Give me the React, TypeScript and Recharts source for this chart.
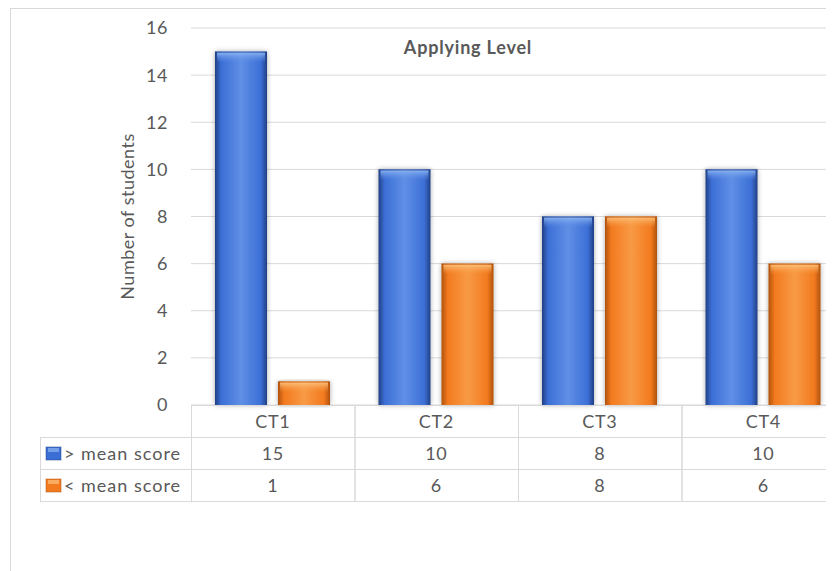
import { BarChart, Bar, XAxis, YAxis, CartesianGrid } from 'recharts';

const categories = ['CT1', 'CT2', 'CT3', 'CT4'];
const aboveMean = [15, 10, 8, 10];
const belowMean = [1, 6, 8, 6];
const seriesNames = ['> mean score', '< mean score'];
const yTicks = [0, 2, 4, 6, 8, 10, 12, 14, 16];

const data = categories.map((name, i) => ({ name, above: aboveMean[i], below: belowMean[i] }));

const TEXT = '#595959';
const LINE = '#d9d9d9';
const FONT = 'Lato, "Open Sans", sans-serif';
const ROW = 32;
const LEGEND_W = 151;

const palette = {
  blue: { edge: '#203f86', mid: '#3c6fd6', light: '#5f8fe6', cap: '#8db4f0' },
  orange: { edge: '#b0520c', mid: '#f37a1f', light: '#f89a45', cap: '#fcc27c' },
};

function BevelBar(props: any) {
  const { x, y, width, height, kind } = props;
  if (!height || height <= 0) return null;
  const c = palette[kind as 'blue' | 'orange'];
  const id = `${kind}-${Math.round(x)}`;
  const cap = Math.min(10, height / 2);
  return (
    <g>
      <defs>
        <linearGradient id={`${id}-h`} x1="0" y1="0" x2="1" y2="0">
          <stop offset="0%" stopColor={c.edge} />
          <stop offset="12%" stopColor={c.mid} />
          <stop offset="50%" stopColor={c.light} />
          <stop offset="88%" stopColor={c.mid} />
          <stop offset="100%" stopColor={c.edge} />
        </linearGradient>
        <linearGradient id={`${id}-v`} x1="0" y1="0" x2="0" y2="1">
          <stop offset="0%" stopColor={c.cap} stopOpacity={0.95} />
          <stop offset="100%" stopColor={c.light} stopOpacity={0} />
        </linearGradient>
        <filter id={`${id}-s`} x="-30%" y="-10%" width="160%" height="120%">
          <feDropShadow dx="0" dy="0" stdDeviation="2.5" floodColor="#000" floodOpacity="0.35" />
        </filter>
      </defs>
      <rect x={x} y={y} width={width} height={height} fill={`url(#${id}-h)`} filter={`url(#${id}-s)`} />
      <rect x={x + 2} y={y + 1} width={width - 4} height={cap} fill={`url(#${id}-v)`} />
      <line x1={x} x2={x + width} y1={y + 0.5} y2={y + 0.5} stroke={c.edge} strokeOpacity={0.6} />
    </g>
  );
}

function TableTick(props: any) {
  const { x, y, payload, index } = props;
  const half = payload && payload.offset ? payload.offset : 81.75;
  const left = x - half;
  const right = x + half;
  const i = index ?? categories.indexOf(payload.value);
  const txt = {
    fontFamily: FONT,
    fontSize: 18,
    letterSpacing: 0.6,
    fill: TEXT,
    textAnchor: 'middle' as const,
    dominantBaseline: 'central' as const,
  };
  return (
    <g>
      <line x1={left} x2={right} y1={y + 0.5} y2={y + 0.5} stroke={LINE} />
      <line x1={left} x2={right} y1={y + ROW + 0.5} y2={y + ROW + 0.5} stroke={LINE} />
      <line x1={left} x2={right} y1={y + ROW * 2 + 0.5} y2={y + ROW * 2 + 0.5} stroke={LINE} />
      <line x1={left} x2={right} y1={y + ROW * 3 + 0.5} y2={y + ROW * 3 + 0.5} stroke={LINE} />
      <line x1={left + 0.5} x2={left + 0.5} y1={y} y2={y + ROW * 3} stroke={LINE} />
      <line x1={right + 0.5} x2={right + 0.5} y1={y} y2={y + ROW * 3} stroke={LINE} />
      <text x={x} y={y + ROW / 2} {...txt}>{payload.value}</text>
      <text x={x} y={y + ROW * 1.5} {...txt}>{aboveMean[i]}</text>
      <text x={x} y={y + ROW * 2.5} {...txt}>{belowMean[i]}</text>
      {i === 0 && (
        <g>
          <line x1={left - LEGEND_W} x2={left} y1={y + ROW + 0.5} y2={y + ROW + 0.5} stroke={LINE} />
          <line x1={left - LEGEND_W} x2={left} y1={y + ROW * 2 + 0.5} y2={y + ROW * 2 + 0.5} stroke={LINE} />
          <line x1={left - LEGEND_W} x2={left} y1={y + ROW * 3 + 0.5} y2={y + ROW * 3 + 0.5} stroke={LINE} />
          <line x1={left - LEGEND_W + 0.5} x2={left - LEGEND_W + 0.5} y1={y + ROW} y2={y + ROW * 3} stroke={LINE} />
          {seriesNames.map((name, k) => {
            const c = k === 0 ? palette.blue : palette.orange;
            const cy = y + ROW * (1.5 + k);
            return (
              <g key={name}>
                <rect x={left - LEGEND_W + 6} y={cy - 6} width={15} height={13} fill={c.mid} stroke={c.edge} strokeOpacity={0.5} />
                <rect x={left - LEGEND_W + 8} y={cy - 5} width={11} height={4} fill={c.cap} opacity={0.7} />
                <text
                  x={left - LEGEND_W + 24}
                  y={cy}
                  fontFamily={FONT}
                  fontSize={18}
                  letterSpacing={1}
                  fill={TEXT}
                  dominantBaseline="central"
                >
                  {name}
                </text>
              </g>
            );
          })}
        </g>
      )}
    </g>
  );
}

export default function App() {
  return (
    <div style={{ position: 'relative', width: 826, height: 563, overflow: 'hidden', background: '#fff' }}>
      <div
        style={{
          position: 'absolute',
          left: 2,
          top: 0,
          width: 900,
          height: 700,
          borderLeft: `1px solid ${LINE}`,
          borderTop: `1px solid ${LINE}`,
        }}
      />
      <div style={{ position: 'absolute', left: 0, top: 0 }}>
        <BarChart
          width={850}
          height={600}
          data={data}
          margin={{ top: 20, right: 13, left: 0, bottom: 107 }}
          barSize={52}
          barGap={11}
        >
          <CartesianGrid vertical={false} stroke={LINE} />
          <YAxis
            width={183}
            domain={[0, 16]}
            ticks={yTicks}
            axisLine={false}
            tickLine={false}
            tickSize={0}
            tickMargin={23}
            tick={{ fontFamily: FONT, fontSize: 18, fill: TEXT, letterSpacing: 0.5 }}
            label={{
              value: 'Number of students',
              angle: -90,
              position: 'center',
              dx: 28,
              style: { fontFamily: FONT, fontSize: 18, fill: TEXT, textAnchor: 'middle', letterSpacing: 0.5 },
            }}
          />
          <XAxis
            dataKey="name"
            height={96}
            interval={0}
            axisLine={false}
            tickLine={false}
            tickSize={0}
            tickMargin={0}
            tick={<TableTick />}
          />
          <Bar dataKey="above" name={seriesNames[0]} isAnimationActive={false} shape={(p: any) => <BevelBar {...p} kind="blue" />} />
          <Bar dataKey="below" name={seriesNames[1]} isAnimationActive={false} shape={(p: any) => <BevelBar {...p} kind="orange" />} />
        </BarChart>
      </div>
      <div
        style={{
          position: 'absolute',
          left: 360,
          top: 28,
          width: 200,
          textAlign: 'center',
          fontFamily: FONT,
          fontWeight: 700,
          fontSize: 18,
          letterSpacing: 0.8,
          color: TEXT,
          lineHeight: '22px',
        }}
      >
        Applying Level
      </div>
    </div>
  );
}
